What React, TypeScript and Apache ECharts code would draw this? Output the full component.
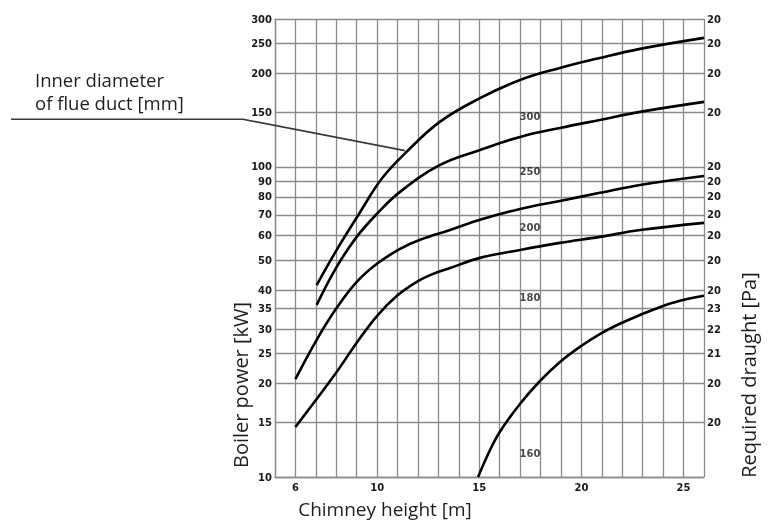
import React, { useEffect, useRef } from 'react';
import * as echarts from 'echarts';

// Chimney height [m] vs boiler power [kW] for different flue duct diameters
const curveA: [number, number][] = [
  [7.04, 41.6], [8.02, 54.0], [9.08, 70.0], [10.24, 91.9], [11.45, 112.0], [13.08, 140.0],
  [15.03, 166.6], [17.0, 190.8], [18.95, 208.6], [20.9, 224.7], [22.87, 240.3], [26, 260.7],
];
const curveB: [number, number][] = [
  [7.04, 35.9], [8.02, 47.6], [9.0, 59.5], [9.98, 70.5], [11.12, 83.1], [13.08, 101.5],
  [15.03, 113.4], [17.0, 125.0], [18.95, 133.6], [20.9, 141.8], [22.87, 150.5], [26, 162.1],
];
const curveC: [number, number][] = [
  [6.0, 20.7], [7.04, 27.7], [7.98, 34.8], [8.96, 42.3], [9.99, 48.7], [11.12, 54.4],
  [12.1, 58.2], [13.57, 62.6], [15.03, 67.5], [17.0, 73.2], [18.95, 77.7], [20.9, 82.5],
  [22.87, 87.5], [26, 93.5],
];
const curveD: [number, number][] = [
  [6.0, 14.5], [7.84, 21.0], [9.07, 27.5], [10.0, 33.1], [10.97, 38.4], [11.94, 42.6],
  [12.74, 45.2], [13.57, 47.2], [15.03, 50.9], [17.0, 54.0], [18.95, 56.9], [20.9, 59.5],
  [22.87, 62.6], [26, 66.0],
];
const curveE: [number, number][] = [
  [14.94, 10.0], [15.52, 12.2], [16.01, 14.0], [16.99, 17.2], [17.97, 20.4], [18.95, 23.5],
  [19.93, 26.3], [20.9, 28.9], [21.88, 31.2], [22.87, 33.3], [23.84, 35.3], [24.82, 37.0],
  [26, 38.4],
];
const curves = [curveA, curveB, curveC, curveD, curveE];

const curveLabelTexts = ['300', '250', '200', '180', '160'];
const curveLabelPoints: [number, number][] = [
  [17.48, 145], [17.48, 96.6], [17.48, 64.0], [17.48, 37.8], [17.48, 11.95],
];

const leftTicks = [10, 15, 20, 25, 30, 35, 40, 50, 60, 70, 80, 90, 100, 150, 200, 250, 300];
const rightTickLabels = ['', '20', '20', '21', '22', '23', '20', '20', '20', '20', '20', '20', '20', '20', '20', '20', '20'];
const xLabelValues = [6, 10, 15, 20, 25];

const leaderTarget: [number, number] = [11.36, 112.9];

const gridColor = '#8a8a8a';
const titleFont = 'Open Sans';

export default function App() {
  const ref = useRef<HTMLDivElement>(null);
  useEffect(() => {
    const chart = echarts.init(ref.current!, null, { renderer: 'svg' });
    const tickFont = {
      fontFamily: 'DejaVu Sans',
      fontWeight: 'bold' as const,
      fontSize: 10,
      color: '#1a1a1a',
    };
    const gridLine = { color: gridColor, width: 1.3 };
    const findTick = (v: number) => leftTicks.findIndex((t) => Math.abs(t - v) < t * 1e-3);

    const lineSeries = curves.map((c) => ({
      type: 'line',
      data: c,
      smooth: 0.4,
      symbol: 'none',
      showSymbol: false,
      silent: true,
      z: 3,
      lineStyle: { color: '#000', width: 2.6 },
    }));

    const labelSeries = {
      type: 'scatter',
      data: curveLabelPoints.map((p, i) => [p[0], p[1], curveLabelTexts[i]]),
      symbolSize: 1,
      itemStyle: { color: 'rgba(0,0,0,0)' },
      silent: true,
      z: 4,
      label: {
        show: true,
        position: 'inside',
        formatter: (p: any) => p.data[2],
        ...tickFont,
      },
    };

    chart.setOption({
      animation: false,
      grid: { left: 275, right: 70, top: 19, bottom: 44 },
      xAxis: {
        type: 'value',
        min: 5,
        max: 26,
        interval: 1,
        axisLine: { show: true, lineStyle: gridLine },
        axisTick: { show: false },
        splitLine: { show: true, lineStyle: gridLine },
        axisLabel: {
          ...tickFont,
          margin: 5,
          formatter: (v: number) => (xLabelValues.includes(v) ? String(v) : ''),
        },
      },
      yAxis: [
        {
          type: 'log',
          logBase: 10,
          min: 10,
          max: 300,
          axisLine: { show: true, lineStyle: gridLine },
          axisTick: { show: false, customValues: leftTicks },
          splitLine: { show: true, lineStyle: gridLine },
          axisLabel: {
            ...tickFont,
            margin: 3,
            customValues: leftTicks,
            formatter: (v: number) => String(Math.round(v)),
          },
        },
        {
          type: 'log',
          logBase: 10,
          min: 10,
          max: 300,
          position: 'right',
          axisLine: { show: false },
          axisTick: { show: false, customValues: leftTicks },
          splitLine: { show: false },
          axisLabel: {
            ...tickFont,
            margin: 3,
            customValues: leftTicks,
            formatter: (v: number) => {
              const i = findTick(v);
              return i >= 0 ? rightTickLabels[i] : '';
            },
          },
        },
      ],
      series: [...lineSeries, labelSeries],
    });

    const end = chart.convertToPixel({ xAxisIndex: 0, yAxisIndex: 0 }, leaderTarget) as number[];

    const titleStyle = {
      fontFamily: titleFont,
      fontSize: 19,
      fill: '#1e1e1e',
    };

    chart.setOption({
      graphic: [
        {
          type: 'polyline',
          shape: { points: [[11, 119.3], [243, 119.3], [end[0], end[1]]] },
          style: { stroke: '#3a3a3a', lineWidth: 1.6, fill: null },
          z: 5,
        },
        {
          type: 'text',
          x: 35,
          y: 91,
          style: {
            ...titleStyle,
            fontSize: 18.5,
            text: 'Inner diameter\nof flue duct [mm]',
            lineHeight: 23,
            align: 'left',
            verticalAlign: 'middle',
          },
        },
        {
          type: 'text',
          x: 385,
          y: 509,
          style: { ...titleStyle, text: 'Chimney height [m]', align: 'center', verticalAlign: 'middle' },
        },
        {
          type: 'text',
          x: 240,
          y: 385,
          rotation: Math.PI / 2,
          style: { ...titleStyle, fontSize: 20, text: 'Boiler power [kW]', align: 'center', verticalAlign: 'middle' },
        },
        {
          type: 'text',
          x: 748,
          y: 375,
          rotation: Math.PI / 2,
          style: { ...titleStyle, fontSize: 20, text: 'Required draught [Pa]', align: 'center', verticalAlign: 'middle' },
        },
      ],
    });

    return () => chart.dispose();
  }, []);
  return <div ref={ref} style={{ position: 'fixed', left: 0, top: 0, width: 774, height: 521 }} />;
}
